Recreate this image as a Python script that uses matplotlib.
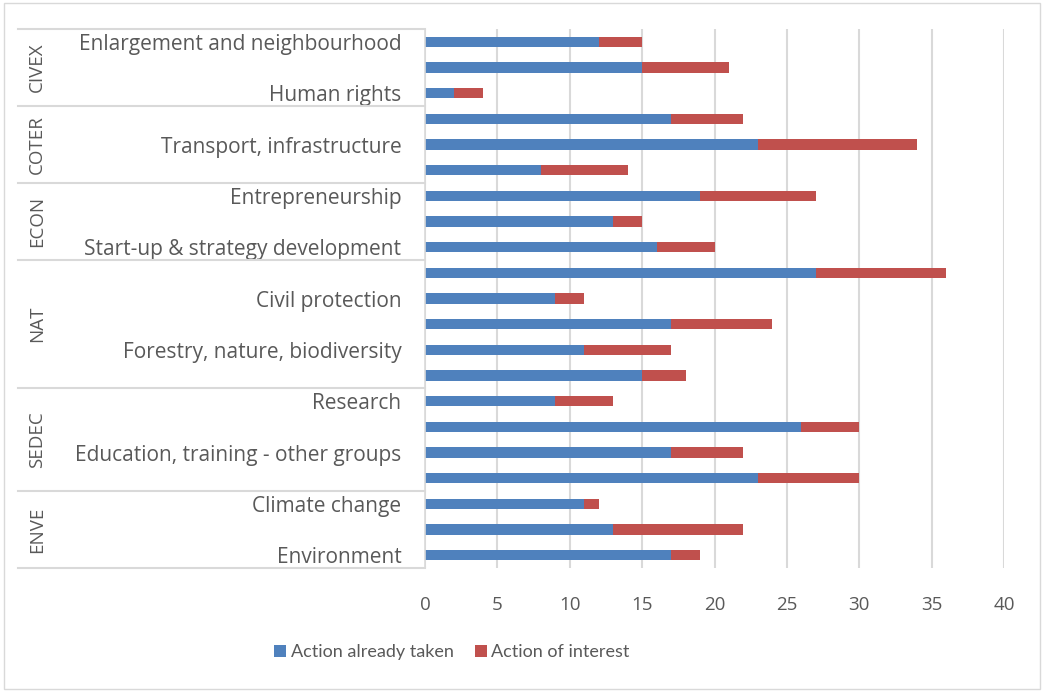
import matplotlib
matplotlib.use("Agg")
import matplotlib.pyplot as plt
import matplotlib.transforms as mtransforms
from matplotlib.patches import Rectangle

plt.rcParams['font.family'] = ['Open Sans', 'DejaVu Sans']

# data, top to bottom (Excel only prints every other category label)
categories = ["Enlargement and neighbourhood", "", "Human rights",
              "", "Transport, infrastructure", "",
              "Entrepreneurship", "", "Start-up & strategy development",
              "", "Civil protection", "", "Forestry, nature, biodiversity", "",
              "Research", "", "Education, training - other groups", "",
              "Climate change", "", "Environment"]
already_taken = [12, 15, 2, 17, 23, 8, 19, 13, 16, 27, 9, 17, 11, 15, 9, 26, 17, 23, 11, 13, 17]
of_interest = [3, 6, 2, 5, 11, 6, 8, 2, 4, 9, 2, 7, 6, 3, 4, 4, 5, 7, 1, 9, 2]
groups = ["CIVEX", "COTER", "ECON", "NAT", "SEDEC", "ENVE"]
group_sizes = [3, 3, 3, 5, 4, 3]
xticks = [0, 5, 10, 15, 20, 25, 30, 35, 40]

BLUE = '#4F81BD'
RED = '#C0504D'
GRID = '#D9D9D9'
TXT = '#595959'

W, H = 1045, 691
fig = plt.figure(figsize=(W / 100, H / 100), dpi=100)
fig.patches.append(Rectangle((4 / W, 2 / H), 1036 / W, 686 / H, transform=fig.transFigure,
                             fill=False, edgecolor=GRID, linewidth=1))

ax = fig.add_axes([425 / W, 1 - 568 / H, (1004 - 425) / W, (568 - 29) / H])

y = list(range(len(categories)))
ax.barh(y, already_taken, height=0.4, color=BLUE, label='Action already taken')
ax.barh(y, of_interest, left=already_taken, height=0.4, color=RED, label='Action of interest')

ax.set_xlim(0, 40)
ax.set_ylim(len(categories) - 0.5, -0.5)
ax.set_xticks(xticks)
ax.set_yticks(y)
ax.set_yticklabels(categories)
ax.tick_params(axis='y', length=0, pad=17, labelsize=15, labelcolor=TXT)
ax.tick_params(axis='x', length=0, pad=20, labelsize=13.5, labelcolor=TXT)
ax.xaxis.grid(True, color=GRID, linewidth=1.5)
ax.set_axisbelow(True)
for s in ['top', 'right', 'bottom']:
    ax.spines[s].set_visible(False)
ax.spines['left'].set_color(GRID)
ax.spines['left'].set_linewidth(1.2)

# group separators and group names in the label area
tr = mtransforms.blended_transform_factory(fig.transFigure, ax.transData)
start = -0.5
bounds = [start]
for name, n in zip(groups, group_sizes):
    end = start + n
    ax.text(37 / W, (start + end) / 2, name, transform=tr, rotation=90,
            ha='center', va='center', fontsize=13.5, color=TXT)
    start = end
    bounds.append(end)
for b in bounds:
    ax.plot([18 / W, 425 / W], [b, b], transform=tr, color=GRID,
            linewidth=1.5, clip_on=False)

fig.legend(loc='center', bbox_to_anchor=(452 / W, 1 - 652 / H), ncol=2, frameon=False,
           handlelength=0.65, handleheight=0.65, handletextpad=0.25, columnspacing=1.2,
           prop={'family': 'Lato', 'size': 13}, labelcolor=TXT)

fig.savefig('out.png', dpi=100)
